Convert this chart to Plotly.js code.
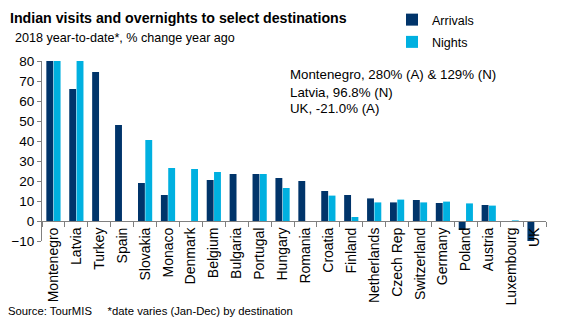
<!DOCTYPE html>
<html>
<head>
<meta charset="utf-8">
<script src="https://cdn.plot.ly/plotly-3.0.1.min.js"></script>
<style>html,body{margin:0;padding:0;background:#fff;}#chart{width:565px;height:332px;}</style>
</head>
<body>
<div id="chart"></div>
<script>
const categories = ["Montenegro","Latvia","Turkey","Spain","Slovakia","Monaco","Denmark","Belgium","Bulgaria","Portugal","Hungary","Romania","Croatia","Finland","Netherlands","Czech Rep","Switzerland","Germany","Poland","Austria","Luxembourg","UK"];
const arrivals = [280, 66, 74.5, 48, 19, 13, null, 20.5, 23.5, 23.5, 21.5, 20, 15, 13, 11.3, 9.3, 10.5, 9, -4.5, 8, null, -21];
const nights   = [129, 96.8, null, null, 40.5, 26.5, 26, 24.5, null, 23.5, 16.5, null, 12.7, 2, 9.3, 10.7, 9.3, 9.7, 8.8, 7.7, 0.3, null];
const yTicks = [-10, 0, 10, 20, 30, 40, 50, 60, 70, 80];
const notes = ["Montenegro, 280% (A) & 129% (N)", "Latvia, 96.8% (N)", "UK, -21.0% (A)"];

const W = 565, H = 332, ml = 42, mr = 19, mt = 61, mb = 91;
const pw = W - ml - mr, ph = H - mt - mb;
const font = "Liberation Sans, Arial, sans-serif";
const navy = "#00346a", cyan = "#00b0e0";

const traces = [
  {type: "bar", name: "Arrivals", x: categories, y: arrivals, marker: {color: navy, line: {width: 0}}, legendgroup: "a"},
  {type: "bar", name: "Nights", x: categories, y: nights, marker: {color: cyan, line: {width: 0}}, legendgroup: "n"}
];

const annotations = notes.map((t, i) => ({
  text: t, xref: "paper", yref: "paper", x: (288 - ml) / pw, y: 1 - (75 + i * 17 - mt) / ph,
  xanchor: "left", yanchor: "middle", showarrow: false, font: {family: font, size: 13.3, color: "#000"}
}));
annotations.push({
  text: "2018 year-to-date*, % change year ago", xref: "paper", yref: "paper",
  x: (13 - ml) / pw, y: 1 + (mt - 38) / ph, xanchor: "left", yanchor: "middle", showarrow: false,
  font: {family: font, size: 12.6, color: "#000"}
});
annotations.push({
  text: "Source: TourMIS&nbsp;&nbsp;&nbsp;&nbsp;&nbsp;*date varies (Jan-Dec) by destination", xref: "paper", yref: "paper",
  x: (6 - ml) / pw, y: -(311 - (mt + ph)) / ph, xanchor: "left", yanchor: "middle", showarrow: false,
  font: {family: font, size: 11.3, color: "#000"}
});

const layout = {
  width: W, height: H,
  margin: {l: ml, r: mr, t: mt, b: mb, pad: 0, autoexpand: false},
  paper_bgcolor: "#fff", plot_bgcolor: "#fff",
  font: {family: font, size: 13, color: "#000"},
  title: {text: "<b>Indian visits and overnights to select destinations</b>", x: 10 / W, xref: "container", xanchor: "left",
          y: 1 - 18 / H, yref: "container", yanchor: "middle", font: {family: font, size: 14.2, color: "#000"}},
  barmode: "group", bargap: 0.36, bargroupgap: 0.06,
  showlegend: true,
  legend: {x: 392 / W, xref: "container", y: 1 - 5 / H, yref: "container", xanchor: "left", yanchor: "top",
           font: {family: font, size: 12.5, color: "#000"}, traceorder: "grouped", tracegroupgap: 3,
           itemwidth: 30, bgcolor: "rgba(0,0,0,0)"},
  xaxis: {type: "category", anchor: "free", position: 10 / 90, tickangle: -90, showline: true, linecolor: "#808080", linewidth: 1,
          ticks: "outside", ticklen: 5, tickcolor: "#808080", tickson: "boundaries", showgrid: false, zeroline: false,
          tickfont: {family: font, size: 14, color: "#000"}, automargin: false},
  yaxis: {range: [-10, 80], tickvals: yTicks, showline: true, linecolor: "#808080", linewidth: 1, ticks: "outside",
          ticklen: 4, tickcolor: "#808080", showgrid: false, zeroline: false,
          tickfont: {family: font, size: 13.5, color: "#000"}, automargin: false},
  annotations: annotations
};

Plotly.newPlot("chart", traces, layout, {displayModeBar: false, staticPlot: true});
</script>
</body>
</html>
